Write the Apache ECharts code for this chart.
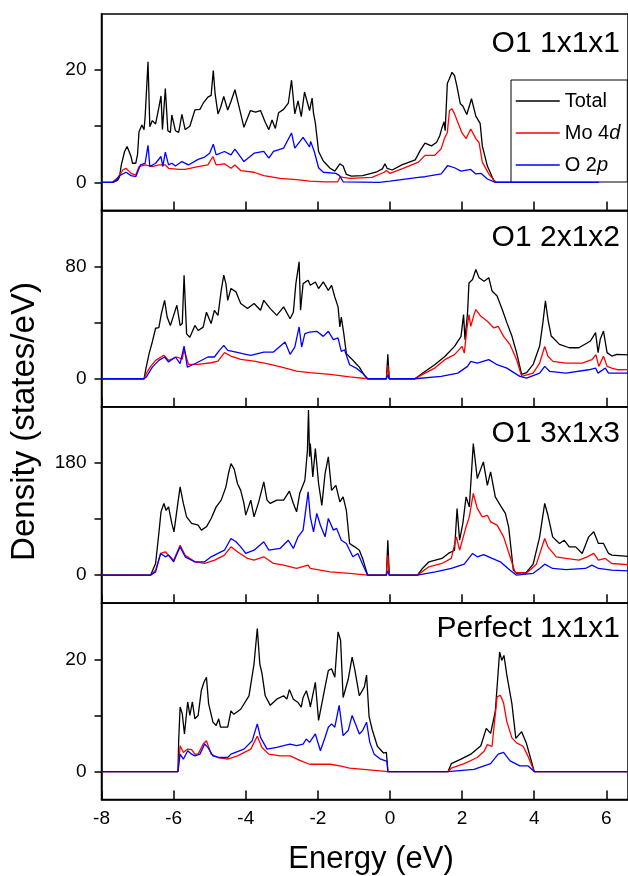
<!DOCTYPE html>
<html><head><meta charset="utf-8">
<script src="https://cdn.jsdelivr.net/npm/echarts@6/dist/echarts.min.js"></script>
<style>html,body{margin:0;padding:0;background:#fff}#c{width:628px;height:876px}</style>
</head><body><div id="c"></div>
<script>
const seriesNames = ['Total', 'Mo 4d', 'O 2p'];
const panelTitles = ['O1 1x1x1', 'O1 2x1x2', 'O1 3x1x3', 'Perfect 1x1x1'];
const xTicks = [-8, -6, -4, -2, 0, 2, 4, 6];
const yRanges = [[-5, 30], [-20, 120], [-45, 270], [-5, 30]];
const yTickValues = [[0, 10, 20], [0, 40, 80], [0, 90, 180], [0, 10, 20]];
const yLabelValues = [[0, 20], [0, 80], [0, 180], [0, 20]];

const p1Total = [[-8,0],[-7.68,0],[-7.55,0.4],[-7.5,1.0],[-7.45,3.1],[-7.36,5.5],[-7.29,6.4],[-7.18,4.6],[-7.14,3.4],[-7.05,3.4],[-7.0,5.0],[-6.96,9.0],[-6.88,10.2],[-6.82,9.4],[-6.79,11.7],[-6.71,21.5],[-6.66,9.9],[-6.59,11],[-6.5,10.4],[-6.41,13.3],[-6.35,15.4],[-6.31,9.4],[-6.23,16.7],[-6.16,9.2],[-6.09,8.9],[-6.05,12],[-5.95,9.2],[-5.86,8.9],[-5.77,12.1],[-5.68,9.4],[-5.55,10],[-5.41,12.9],[-5.27,13],[-5.18,14.1],[-5.05,15.2],[-4.96,15.5],[-4.9,19.9],[-4.85,15.8],[-4.77,12.2],[-4.7,13.3],[-4.61,15.3],[-4.5,12.9],[-4.41,14.4],[-4.3,16.5],[-4.18,13.3],[-4.05,9.8],[-3.87,12.8],[-3.73,12.5],[-3.59,12.8],[-3.46,10.7],[-3.36,9.4],[-3.27,11.1],[-3.18,9.6],[-3.09,12.4],[-2.95,13.0],[-2.82,14.1],[-2.73,18.2],[-2.64,12.2],[-2.55,14.5],[-2.46,11.7],[-2.37,16.1],[-2.23,12.8],[-2.16,15],[-2.12,12.3],[-2.07,10.6],[-1.98,5.5],[-1.85,3.8],[-1.66,2.5],[-1.53,2.0],[-1.39,3.3],[-1.3,2.9],[-1.21,1.4],[-1.07,1.1],[-0.76,1.2],[-0.39,1.8],[-0.21,2.4],[-0.14,3.3],[-0.08,2.5],[0.06,2.2],[0.33,3.1],[0.7,4],[0.84,5.7],[0.97,7.0],[1.15,6.5],[1.29,7.1],[1.38,8.3],[1.44,9.7],[1.5,10.8],[1.53,9.2],[1.59,17.6],[1.65,18.5],[1.72,19.6],[1.79,19],[1.86,17],[1.95,14],[2.02,13.6],[2.13,12.1],[2.26,14.9],[2.38,11.8],[2.5,10.5],[2.56,6.5],[2.7,2.9],[2.88,0.3],[2.95,0],[5.79,0]];
const p1Mo = [[-8,0],[-7.7,0],[-7.55,0.8],[-7.41,2.2],[-7.32,2.5],[-7.18,1.6],[-7.05,1.3],[-6.96,2.8],[-6.79,3.1],[-6.59,2.8],[-6.41,3.1],[-6.23,3.1],[-6.14,2.5],[-5.86,2.3],[-5.68,2.3],[-5.32,2.8],[-5.05,3.1],[-4.91,4.6],[-4.82,3.1],[-4.59,3.3],[-4.41,2.5],[-4.3,3.1],[-4.14,2.1],[-3.77,1.8],[-3.5,1.2],[-3.05,0.7],[-2.59,0.5],[-2.23,0.2],[-1.8,0.1],[-1.45,0.1],[-1.38,1.0],[-1.3,0.9],[-1.1,0.7],[-0.5,0.9],[-0.16,1.8],[-0.1,2.1],[0.0,1.6],[0.33,2.4],[0.79,3.6],[0.97,4.8],[1.24,4.8],[1.42,6.0],[1.51,7.8],[1.59,8.9],[1.65,12.8],[1.72,13.1],[1.79,12.2],[1.88,10.7],[1.99,8.9],[2.11,7.8],[2.24,9.5],[2.38,7.8],[2.47,7.1],[2.56,3.6],[2.74,1.5],[2.92,0.1],[2.95,0],[5.79,0]];
const p1O = [[-8,0],[-7.7,0],[-7.6,0.3],[-7.5,1.2],[-7.32,1.8],[-7.18,1.2],[-7.05,1.0],[-6.92,3.1],[-6.79,3.4],[-6.71,6.6],[-6.66,2.8],[-6.5,3.4],[-6.35,4.6],[-6.3,2.8],[-6.23,5.4],[-6.14,3.1],[-6.05,3.4],[-5.95,2.9],[-5.77,3.7],[-5.59,3.1],[-5.32,4.1],[-5.14,4.5],[-5.0,5.2],[-4.9,6.8],[-4.82,4.9],[-4.59,5.5],[-4.41,4.9],[-4.3,5.9],[-4.05,3.7],[-3.77,5.2],[-3.5,5.5],[-3.36,4.3],[-3.23,5.5],[-2.95,6.1],[-2.73,8.8],[-2.64,6.1],[-2.41,8.0],[-2.23,6.3],[-2.2,7.3],[-2.1,5.5],[-1.98,2.6],[-1.85,1.8],[-1.5,1.6],[-1.4,1.2],[-1.3,0.1],[-0.3,0],[0.0,0.2],[0.79,0.9],[0.97,1.0],[1.42,1.5],[1.6,3.0],[1.79,2.6],[1.97,2.0],[2.24,2.3],[2.38,1.5],[2.52,1.6],[2.7,0.6],[2.92,0],[5.79,0]];

const p2Total = [[-8,0],[-6.82,0],[-6.77,7.1],[-6.68,17.9],[-6.59,26.4],[-6.5,36],[-6.41,36.4],[-6.34,46.4],[-6.25,55.9],[-6.18,44],[-6.09,38],[-6.0,45.2],[-5.91,52.4],[-5.82,38],[-5.76,39.3],[-5.71,73.8],[-5.64,32],[-5.55,29.6],[-5.41,38],[-5.32,34.4],[-5.18,36.8],[-5.09,47.4],[-4.96,39.3],[-4.87,48.8],[-4.77,45.2],[-4.68,63],[-4.61,73.8],[-4.55,67.8],[-4.5,55.9],[-4.41,64.3],[-4.27,61.9],[-4.14,53.6],[-3.95,50],[-3.77,53.6],[-3.59,48.8],[-3.5,55.9],[-3.32,50],[-3.14,45.2],[-2.95,51.2],[-2.77,42.8],[-2.68,47.4],[-2.61,67.8],[-2.52,83.3],[-2.48,48.8],[-2.41,67.8],[-2.27,70.2],[-2.21,66.6],[-2.07,69],[-1.98,64.3],[-1.85,69],[-1.71,63],[-1.62,66.6],[-1.53,58.3],[-1.44,51.2],[-1.39,36.9],[-1.35,44],[-1.28,32],[-1.21,17.9],[-1.07,14.3],[-0.94,10.7],[-0.85,8.3],[-0.71,2.4],[-0.62,0],[-0.1,0],[-0.06,17.4],[-0.02,0],[0.69,0],[0.97,5.2],[1.24,10],[1.52,15.9],[1.79,23.1],[1.97,30.2],[2.04,45.7],[2.08,27.9],[2.15,46.9],[2.19,68.3],[2.29,70.7],[2.38,77.9],[2.47,72],[2.61,69.5],[2.74,72],[2.83,62.6],[2.97,59],[3.11,49.5],[3.24,40],[3.38,30.5],[3.51,18.6],[3.65,3.1],[3.79,4.3],[3.97,10.2],[4.15,23.3],[4.24,40],[4.31,55.5],[4.38,42.4],[4.47,30.5],[4.7,24.5],[4.97,22.1],[5.24,22.1],[5.56,26.9],[5.7,32.9],[5.77,18.6],[5.83,28.1],[5.92,34],[6.02,18.6],[6.15,16.2],[6.29,17.4],[6.6,17]];
const p2Mo = [[-8,0],[-6.82,0],[-6.76,3.6],[-6.65,8.3],[-6.5,13.1],[-6.27,16.7],[-6.14,13.1],[-5.91,15.5],[-5.76,14],[-5.71,21],[-5.59,10.2],[-5.32,10.2],[-4.96,11.4],[-4.77,12.6],[-4.59,18.6],[-4.41,16.2],[-4.14,13.8],[-3.77,12.6],[-3.32,10.2],[-2.95,7.9],[-2.59,5.5],[-2.23,4.3],[-1.66,3.1],[-1.12,1.4],[-0.62,0],[-0.1,0],[-0.06,9.5],[-0.02,0],[0.69,0],[0.97,4.0],[1.24,7.6],[1.52,13.6],[1.79,17.2],[2.0,23.1],[2.06,18.3],[2.13,35],[2.19,45.7],[2.24,37.4],[2.33,45.7],[2.38,49.3],[2.52,44.5],[2.7,41],[2.88,36.2],[3.0,37.4],[3.15,30.2],[3.33,24.3],[3.51,13.6],[3.65,1.7],[3.97,4.0],[4.15,11.2],[4.29,23.1],[4.38,16],[4.52,12.4],[4.88,11.2],[5.33,11.2],[5.6,13.6],[5.71,17.2],[5.79,8.8],[5.92,16],[6.02,8.8],[6.15,7.6],[6.33,6.4],[6.6,6.5]];
const p2O = [[-8,0],[-6.82,0],[-6.76,1.2],[-6.59,8.3],[-6.41,13.1],[-6.25,15.5],[-6.14,11.9],[-5.95,15.5],[-5.82,10.7],[-5.71,23.3],[-5.62,8.3],[-5.41,10.7],[-5.05,15.5],[-4.87,15.5],[-4.73,20.2],[-4.61,23.8],[-4.5,20.2],[-4.27,19.0],[-4.09,17.9],[-3.86,16.7],[-3.5,19],[-3.23,19],[-2.91,26.2],[-2.77,17.4],[-2.64,22.6],[-2.52,36.9],[-2.45,22.6],[-2.36,32.1],[-2.23,33.3],[-2.03,33.8],[-1.85,30.2],[-1.71,33.8],[-1.57,27.9],[-1.44,29.1],[-1.35,19.5],[-1.26,20.7],[-1.12,10],[-0.94,7.6],[-0.76,4.0],[-0.62,0],[-0.1,0],[-0.06,2.9],[-0.02,0],[0.69,0],[1.42,1.7],[1.88,4.0],[2.15,8.8],[2.24,12.4],[2.42,11.2],[2.74,13.6],[2.97,10],[3.24,7.6],[3.6,1.7],[3.79,0.5],[4.15,4.0],[4.29,8.8],[4.43,5.2],[4.88,4.0],[5.51,6.4],[5.7,7.6],[5.77,4.0],[5.97,7.6],[6.06,4.0],[6.33,4.0],[6.6,4]];

const p3Total = [[-8,0],[-6.64,0],[-6.5,18.7],[-6.41,66.8],[-6.35,101.5],[-6.27,115],[-6.21,104],[-6.14,109.5],[-6.05,83],[-5.99,69.5],[-5.91,104],[-5.82,141.6],[-5.73,115],[-5.64,93.5],[-5.5,83],[-5.32,80.2],[-5.23,72.2],[-5.09,77.5],[-4.96,90.9],[-4.82,109.5],[-4.68,120.3],[-4.55,141.6],[-4.48,163],[-4.41,179],[-4.32,170],[-4.23,147],[-4.14,136],[-4.05,115],[-4.0,96.2],[-3.86,120.3],[-3.77,93.5],[-3.64,117.6],[-3.5,149.6],[-3.41,120.3],[-3.32,115],[-3.14,120.3],[-2.95,120.3],[-2.79,134.6],[-2.68,115],[-2.59,101.5],[-2.5,131.9],[-2.36,152.3],[-2.29,200],[-2.26,265],[-2.23,190],[-2.21,211],[-2.14,157.6],[-2.07,203],[-1.98,147],[-1.89,112],[-1.8,163],[-1.71,189.7],[-1.62,136],[-1.5,144],[-1.39,117.6],[-1.3,125.6],[-1.21,104],[-1.12,50.8],[-0.98,45.4],[-0.85,40],[-0.76,26.8],[-0.62,0],[-0.1,0],[-0.06,56],[-0.02,0],[0.76,0],[0.9,10.7],[1.08,21.4],[1.26,24],[1.44,26.8],[1.62,34.8],[1.79,40],[1.86,107],[1.93,56],[2.02,83],[2.11,125.6],[2.2,109.5],[2.31,211],[2.42,155],[2.59,181.7],[2.7,144],[2.79,165.7],[2.92,125.6],[3.06,112],[3.2,99],[3.29,77.5],[3.42,8],[3.51,3],[3.78,4.3],[3.97,17.6],[4.15,61.4],[4.29,115],[4.38,96],[4.51,61.4],[4.7,50.8],[4.83,56],[4.97,45.4],[5.15,45.4],[5.33,34.8],[5.51,61.4],[5.65,69.5],[5.78,50.8],[5.92,50.8],[6.06,34.8],[6.15,32],[6.6,30]];
const p3Mo = [[-8,0],[-6.64,0],[-6.5,8],[-6.36,34.8],[-6.23,37.4],[-6.14,32],[-6.0,24],[-5.82,48],[-5.68,32],[-5.41,21.4],[-5.14,18.7],[-4.86,24],[-4.59,32],[-4.41,45.4],[-4.23,37.4],[-3.95,26.8],[-3.77,24],[-3.5,29.4],[-3.23,18.7],[-2.95,16],[-2.59,10.7],[-2.27,16],[-2.21,10.7],[-1.66,5.3],[-1.12,2.7],[-0.62,0],[-0.1,0],[-0.06,32],[-0.02,0],[0.76,0],[1.08,13.4],[1.44,18.7],[1.7,26.8],[1.84,61.4],[1.93,40],[2.11,77.5],[2.2,93.5],[2.31,131],[2.42,107],[2.56,93.5],[2.7,96],[2.79,85.5],[2.97,80.2],[3.15,61.4],[3.33,29.4],[3.47,4.3],[3.78,3],[4.06,17.6],[4.29,58.8],[4.38,45.4],[4.61,29.4],[4.88,26.8],[5.24,24],[5.47,29.4],[5.65,34.8],[5.78,24],[5.97,26.8],[6.15,18.7],[6.6,17]];
const p3O = [[-8,0],[-6.64,0],[-6.5,5.3],[-6.36,34.8],[-6.23,29.4],[-6.14,32],[-6.0,21.4],[-5.82,45.4],[-5.68,29.4],[-5.41,21.4],[-5.14,21.4],[-4.96,29.4],[-4.77,34.8],[-4.59,40],[-4.41,58.8],[-4.27,53.5],[-4.14,45.4],[-4.0,34.8],[-3.77,40],[-3.5,53.5],[-3.36,40],[-3.05,42.8],[-2.82,56],[-2.68,42.8],[-2.55,61.4],[-2.41,72.2],[-2.27,133.6],[-2.21,93.5],[-2.12,69.5],[-2.03,99],[-1.93,80],[-1.8,61.4],[-1.71,91],[-1.57,72.2],[-1.48,75],[-1.35,56],[-1.21,50.8],[-1.03,29.4],[-0.89,34.8],[-0.76,17.6],[-0.62,0],[-0.1,0],[-0.06,7],[-0.02,0],[0.76,0],[1.26,5.3],[1.7,10.7],[2.06,17.6],[2.29,34.8],[2.42,29.4],[2.6,33],[2.83,26.8],[3.06,21.4],[3.33,8],[3.51,0],[3.97,3],[4.15,10.7],[4.29,17.6],[4.51,10.7],[4.88,9],[5.42,10.7],[5.6,16],[5.78,10.7],[6.15,8],[6.6,7]];

const p4Total = [[-8,0],[-5.88,0],[-5.86,5.5],[-5.82,11.5],[-5.76,10.3],[-5.7,6.7],[-5.61,12.4],[-5.55,10],[-5.48,12.4],[-5.41,9.4],[-5.32,10],[-5.23,14.5],[-5.16,15.9],[-5.09,16.8],[-5.03,12.1],[-4.91,8.8],[-4.82,8.2],[-4.75,9.4],[-4.7,7.9],[-4.5,7.9],[-4.41,10.8],[-4.33,10.2],[-4.14,11.1],[-3.91,13.5],[-3.77,19.2],[-3.68,25.5],[-3.61,19.2],[-3.55,17.5],[-3.46,13.5],[-3.32,11.8],[-3.14,12.9],[-2.95,13.5],[-2.86,12.9],[-2.79,14.6],[-2.68,12.9],[-2.55,12.3],[-2.46,11.5],[-2.41,13.2],[-2.32,14.4],[-2.23,12.3],[-2.21,11.5],[-2.07,15.9],[-1.98,9.1],[-1.8,15.1],[-1.71,18],[-1.62,18.3],[-1.53,16.8],[-1.44,24.9],[-1.37,23.4],[-1.3,13.2],[-1.16,16.4],[-1.05,20.4],[-0.98,18.3],[-0.85,13.5],[-0.71,15.1],[-0.65,17.2],[-0.58,9.8],[-0.49,7.4],[-0.35,4.5],[-0.18,3.3],[-0.1,3.4],[-0.06,0],[1.61,0],[1.7,1.4],[1.97,2.2],[2.24,3.1],[2.52,4.6],[2.67,7.7],[2.79,6.8],[2.92,10.7],[3.04,21.3],[3.1,19.8],[3.16,20.7],[3.24,17.2],[3.38,12.1],[3.49,5.9],[3.65,7.1],[3.78,5.1],[4.0,0],[6.6,0]];
const p4Mo = [[-8,0],[-5.88,0],[-5.82,4.6],[-5.73,3.4],[-5.61,4.0],[-5.5,3.9],[-5.41,3.1],[-5.32,3.1],[-5.18,4.9],[-5.09,5.5],[-4.96,3.1],[-4.77,2.5],[-4.5,2.2],[-4.23,2.8],[-3.86,4.0],[-3.68,6.3],[-3.55,4.3],[-3.36,3.1],[-3.05,2.8],[-2.77,2.8],[-2.5,2.0],[-2.23,1.3],[-1.66,1.3],[-1.39,1.0],[-1.12,0.6],[-0.58,0.3],[-0.06,0],[1.61,0],[1.7,0.6],[2.06,1.4],[2.42,2.5],[2.61,3.6],[2.7,4.8],[2.83,4.5],[2.97,13.3],[3.06,13.6],[3.15,12.2],[3.24,8.9],[3.38,6.0],[3.51,5.1],[3.69,4.5],[3.83,2.7],[4.0,0],[6.6,0]];
const p4O = [[-8,0],[-5.88,0],[-5.82,3.1],[-5.73,2.2],[-5.61,3.7],[-5.5,3.1],[-5.41,2.8],[-5.27,3.1],[-5.14,4.9],[-5.05,4.3],[-4.91,2.8],[-4.73,2.5],[-4.5,2.5],[-4.41,3.1],[-4.05,4.0],[-3.82,5.5],[-3.68,8.5],[-3.59,6.1],[-3.41,4.0],[-3.14,4.3],[-2.95,4.6],[-2.77,4.9],[-2.59,4.6],[-2.41,4.9],[-2.32,5.8],[-2.23,5.2],[-2.07,6.7],[-1.93,3.7],[-1.8,6.1],[-1.71,7.9],[-1.62,8.5],[-1.53,7.9],[-1.41,11.8],[-1.3,6.4],[-1.16,7.3],[-1.05,10],[-0.94,8.2],[-0.85,6.7],[-0.76,7.3],[-0.65,8.8],[-0.56,5.2],[-0.44,3.1],[-0.26,2.2],[-0.08,1.8],[-0.06,0],[1.61,0],[2.33,0.4],[2.79,1.4],[3.0,3.1],[3.15,3.4],[3.33,1.9],[3.6,1.0],[3.83,1.0],[4.0,0],[6.6,0]];

const panelData = [[p1Total, p1Mo, p1O], [p2Total, p2Mo, p2O], [p3Total, p3Mo, p3O], [p4Total, p4Mo, p4O]];
const colors = ['#000000', '#ff0000', '#0000ff'];

const FONT = "'Liberation Sans', Arial, sans-serif";
const gridTops = [14, 210.4, 406.8, 603.2];
const gridH = 196.4;
const titleY = [43.5, 238, 433.5, 629];

const grids = [], xAxes = [], yAxes = [], series = [], graphics = [];
for (let i = 0; i < 4; i++) {
  grids.push({ left: 101.5, top: gridTops[i], width: 535.4, height: gridH, show: true, borderColor: '#000', borderWidth: 1.5, backgroundColor: 'transparent' });
  xAxes.push({
    type: 'value', gridIndex: i, min: -8, max: 6.6, position: 'bottom',
    axisLine: { show: true, onZero: false, lineStyle: { color: '#000', width: 1.5 } },
    axisTick: { show: true, inside: true, length: 9, customValues: xTicks, lineStyle: { color: '#000', width: 1.5 } },
    axisLabel: { show: i === 3, customValues: xTicks, margin: 10, color: '#000', fontSize: 19, fontFamily: FONT },
    splitLine: { show: false }
  });
  yAxes.push({
    type: 'value', gridIndex: i, min: yRanges[i][0], max: yRanges[i][1],
    axisLine: { show: true, onZero: false, lineStyle: { color: '#000', width: 1.5 } },
    axisTick: { show: true, inside: false, length: 7, customValues: yTickValues[i], lineStyle: { color: '#000', width: 1.5 } },
    axisLabel: { show: true, customValues: yLabelValues[i], margin: 15, color: '#000', fontSize: 19, fontFamily: FONT },
    splitLine: { show: false }
  });
  for (let s = 0; s < 3; s++) {
    series.push({
      type: 'line', name: seriesNames[s], xAxisIndex: i, yAxisIndex: i,
      data: panelData[i][s], symbol: 'none', showSymbol: false, clip: true,
      lineStyle: { color: colors[s], width: 1.3 }, itemStyle: { color: colors[s] },
      emphasis: { disabled: true }, animation: false, z: 2 + s
    });
  }
  graphics.push({
    type: 'text', silent: true,
    style: { text: panelTitles[i], x: 620, y: titleY[i], fill: '#000', font: '30px ' + FONT, textAlign: 'right', align: 'right', textVerticalAlign: 'middle', verticalAlign: 'middle' }
  });
}
graphics.push({
  type: 'text', silent: true, x: 25, y: 421.5, rotation: Math.PI / 2,
  style: { text: 'Density (states/eV)', x: 0, y: 0, fill: '#000', font: '33px ' + FONT, textAlign: 'center', align: 'center', textVerticalAlign: 'middle', verticalAlign: 'middle' }
});
graphics.push({
  type: 'text', silent: true,
  style: { text: 'Energy (eV)', x: 371, y: 859, fill: '#000', font: '31px ' + FONT, textAlign: 'center', align: 'center', textVerticalAlign: 'middle', verticalAlign: 'middle' }
});

const chart = echarts.init(document.getElementById('c'), null, { renderer: 'canvas' });
chart.setOption({
  animation: false,
  backgroundColor: '#fff',
  grid: grids, xAxis: xAxes, yAxis: yAxes, series: series,
  legend: {
    data: seriesNames, orient: 'vertical', left: 511, top: 80,
    padding: [11, 7, 7, 4], itemGap: 12, itemWidth: 44, itemHeight: 14,
    borderColor: '#000', borderWidth: 1, backgroundColor: '#fff',
    selectedMode: false,
    itemStyle: { color: 'transparent', borderColor: 'transparent', borderWidth: 0, opacity: 0 },
    lineStyle: { width: 1.5 },
    textStyle: { color: '#000', fontSize: 20, fontFamily: FONT, rich: { i: { fontStyle: 'italic', fontSize: 20, fontFamily: FONT, color: '#000' } } },
    formatter: function (name) {
      if (name === 'Mo 4d') return 'Mo 4{i|d}';
      if (name === 'O 2p') return 'O 2{i|p}';
      return name;
    }
  },
  graphic: graphics
});
</script>
</body></html>
